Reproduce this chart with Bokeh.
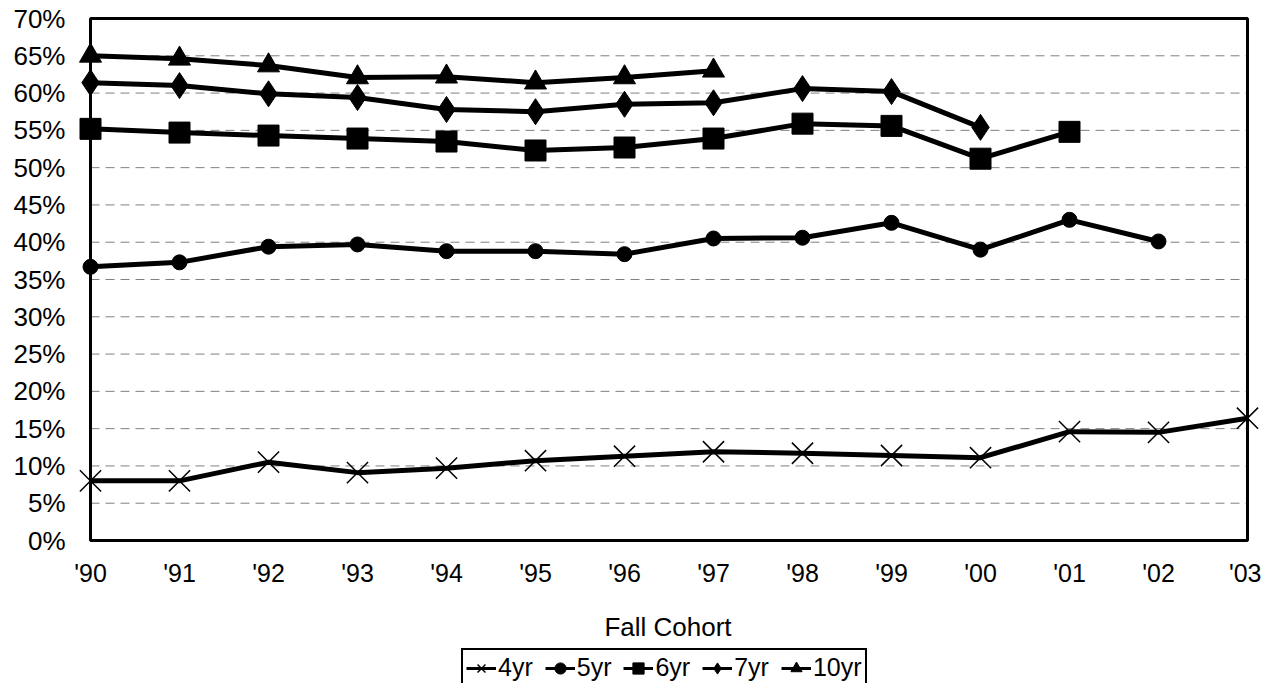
from bokeh.plotting import figure
from bokeh.layouts import column
from bokeh.models import Range1d, FixedTicker, Legend, LegendItem, ColumnDataSource
from bokeh.embed import file_html
from bokeh.resources import INLINE

cohorts = ["'90", "'91", "'92", "'93", "'94", "'95", "'96", "'97", "'98", "'99", "'00", "'01", "'02", "'03"]
y4 = [8.0, 8.0, 10.5, 9.1, 9.7, 10.7, 11.3, 11.9, 11.7, 11.4, 11.1, 14.6, 14.5, 16.4]
y5 = [36.7, 37.3, 39.4, 39.7, 38.8, 38.8, 38.4, 40.5, 40.6, 42.6, 39.0, 43.0, 40.1]
y6 = [55.2, 54.7, 54.3, 53.9, 53.5, 52.3, 52.7, 53.9, 55.9, 55.6, 51.2, 54.8]
y7 = [61.4, 61.0, 59.9, 59.4, 57.8, 57.5, 58.5, 58.7, 60.6, 60.2, 55.4]
y10 = [65.0, 64.6, 63.7, 62.1, 62.2, 61.4, 62.1, 63.0]
series_names = ["4yr", "5yr", "6yr", "7yr", "10yr"]
y_ticks = list(range(0, 75, 5))

FONT = "Liberation Sans"

# visible box: x 90..1247, y 18..540 (figure pixels); frame padded so edge markers are not clipped
n = len(cohorts) - 1
px_x = (1247 - 90) / n
px_y = (540 - 18) / 70.0
padL, padR, padY = 16, 14, 3
W, H1, H2 = 1261, 645, 38
p = figure(width=W, height=H1, output_backend="svg", toolbar_location=None,
           x_range=Range1d(-padL / px_x, n + padR / px_x),
           y_range=Range1d(-padY / px_y, 70 + padY / px_y),
           min_border_left=90 - padL, min_border_right=W - (1247 + padR),
           min_border_top=18 - padY, min_border_bottom=H1 - (540 + padY))
p.title.visible = False
p.outline_line_color = None

p.xaxis.ticker = FixedTicker(ticks=list(range(len(cohorts))))
p.xaxis.major_label_overrides = {i: c for i, c in enumerate(cohorts)}
p.yaxis.ticker = FixedTicker(ticks=y_ticks)
p.yaxis.major_label_overrides = {t: f"{t}%" for t in y_ticks}
for ax in (p.xaxis[0], p.yaxis[0]):
    ax.axis_line_color = None
    ax.major_tick_out = 0
    ax.major_tick_in = 0
    ax.minor_tick_out = 0
    ax.minor_tick_in = 0
    ax.major_label_text_font = FONT
    ax.major_label_text_color = "black"
p.xaxis.major_label_text_font_size = "25px"
p.yaxis.major_label_text_font_size = "26px"
p.xaxis.major_label_standoff = 15
p.yaxis.major_label_standoff = 9
p.xaxis.axis_label = "Fall Cohort"
p.xaxis.axis_label_text_font = FONT
p.xaxis.axis_label_text_font_size = "26px"
p.xaxis.axis_label_text_font_style = "normal"
p.xaxis.axis_label_text_color = "black"
p.xaxis.axis_label_standoff = 22

p.xgrid.grid_line_color = None
p.ygrid.grid_line_color = None

# dashed horizontal gridlines inside the box only
grid_vals = y_ticks[1:-1]
p.segment(x0=[0] * len(grid_vals), x1=[n] * len(grid_vals), y0=grid_vals, y1=grid_vals,
          line_color="#808080", line_dash="9 6", line_width=1)
# plot box
p.quad(left=[0], right=[n], bottom=[0], top=[70], fill_color=None,
       line_color="black", line_width=3)

data = [y4, y5, y6, y7, y10]
markers = ["x", "circle", "square", "diamond", "triangle"]
sizes = [30, 15, 21, 26, 22]
sources = []
for name, ys, mk, sz in zip(series_names, data, markers, sizes):
    src = ColumnDataSource(dict(x=list(range(len(ys))), y=ys))
    sources.append(src)
    p.line("x", "y", source=src, line_color="black", line_width=5)
    if mk == "x":
        p.scatter("x", "y", source=src, marker=mk, size=sz, line_color="black", line_width=1.5)
    else:
        p.scatter("x", "y", source=src, marker=mk, size=sz, fill_color="black", line_color="black")

# legend strip (its renderers share the series data but fall outside this strip's ranges)
p2 = figure(width=W, height=H2, output_backend="svg", toolbar_location=None,
            x_range=Range1d(100, 101), y_range=Range1d(100, 101), min_border=0,
            x_axis_type=None, y_axis_type=None)
p2.title.visible = False
p2.outline_line_color = None
p2.xgrid.grid_line_color = None
p2.ygrid.grid_line_color = None
items = []
for name, mk, src in zip(series_names, markers, sources):
    r1 = p2.line("x", "y", source=src, line_color="black", line_width=3)
    if mk == "x":
        r2 = p2.scatter("x", "y", source=src, marker=mk, line_color="black", line_width=1.5)
    else:
        r2 = p2.scatter("x", "y", source=src, marker=mk, fill_color="black", line_color="black")
    items.append(LegendItem(label=name, renderers=[r1, r2]))

legend = Legend(items=items, orientation="horizontal", location=(387, -4),
                label_text_font=FONT, label_text_font_size="25px", label_text_color="black",
                glyph_width=30, glyph_height=28, label_standoff=2, spacing=12,
                padding=3, margin=0, border_line_color="black", border_line_width=2,
                border_line_alpha=1, background_fill_alpha=1)
p2.add_layout(legend, "center")

open("out.html", "w").write(file_html(column(p, p2, spacing=0), INLINE))
